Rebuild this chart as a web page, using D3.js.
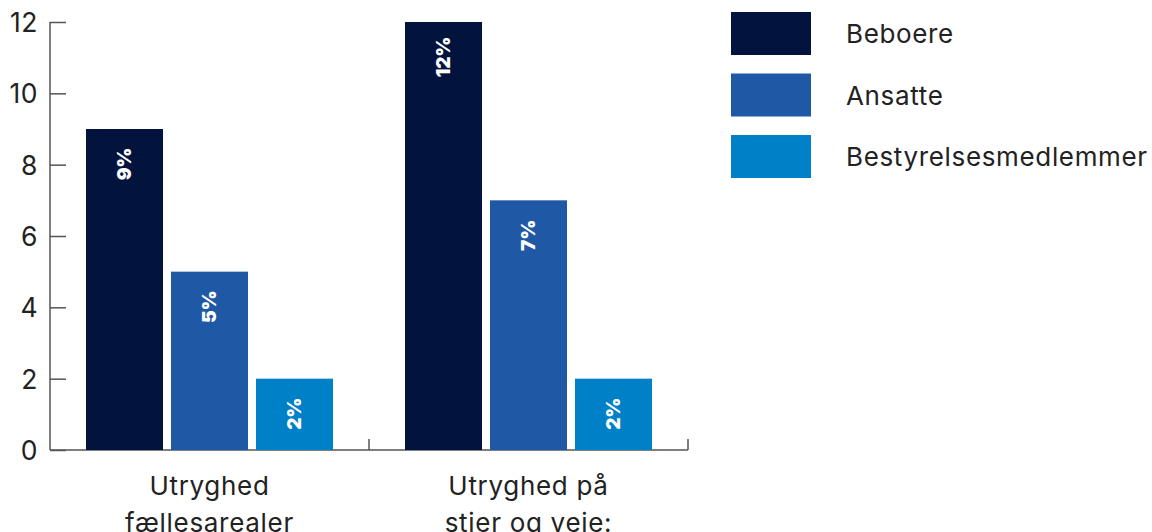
<!DOCTYPE html>
<html><head><meta charset="utf-8">
<script src="https://cdn.jsdelivr.net/npm/d3@7"></script>
<style>
html,body{margin:0;padding:0;background:#fff;}
svg{display:block;font-family:"Inter","Lato",sans-serif;}
</style></head>
<body>
<svg id="chart" width="1152" height="532"></svg>
<script>
const categories = [["Utryghed", "fællesarealer"], ["Utryghed på", "stier og veje:"]];
const seriesNames = ["Beboere", "Ansatte", "Bestyrelsesmedlemmer"];
const beboere = [9, 12];
const ansatte = [5, 7];
const bestyrelse = [2, 2];
const yTicks = [0, 2, 4, 6, 8, 10, 12];
const colors = ["#02143E", "#1F59A6", "#0080C7"];

const seriesValues = [beboere, ansatte, bestyrelse];
const svg = d3.select("#chart");
const x0 = d3.scaleBand().domain(d3.range(categories.length)).range([50, 688]).paddingInner(0).paddingOuter(0);
const x1 = d3.scaleBand().domain(d3.range(seriesNames.length)).range([36, 283]).paddingInner(0.094);
const y = d3.scaleLinear().domain([0, 12]).range([450, 22]);
const textColor = "#222";
const axisColor = "#555";

// y axis
const yAxis = svg.append("g").attr("transform", "translate(50,0)")
  .call(d3.axisRight(y).tickValues(yTicks).tickSize(16).tickFormat(""));
yAxis.select(".domain").remove();
yAxis.selectAll("line").attr("stroke", axisColor).attr("stroke-width", 1.5);
svg.append("line").attr("x1", 50).attr("x2", 50).attr("y1", y(12)).attr("y2", y(0))
  .attr("stroke", axisColor).attr("stroke-width", 1.5);
svg.append("g").selectAll("text").data(yTicks).join("text")
  .attr("x", 38).attr("y", d => y(d)).attr("text-anchor", "end")
  .attr("dominant-baseline", "central").attr("font-size", 26.5).attr("letter-spacing", 0.5).attr("fill", textColor)
  .text(d => d);

// x axis
svg.append("line").attr("x1", 50).attr("x2", 688).attr("y1", y(0)).attr("y2", y(0))
  .attr("stroke", axisColor).attr("stroke-width", 1.5);
const xBoundaries = d3.range(1, categories.length + 1).map(i => x0(i - 1) + x0.bandwidth());
svg.append("g").selectAll("line").data(xBoundaries).join("line")
  .attr("x1", d => d).attr("x2", d => d).attr("y1", y(0) - 11).attr("y2", y(0))
  .attr("stroke", axisColor).attr("stroke-width", 1.5);

// bars
const groups = svg.append("g").selectAll("g").data(categories).join("g")
  .attr("transform", (d, i) => `translate(${x0(i)},0)`);
groups.each(function(cat, ci) {
  const g = d3.select(this);
  seriesNames.forEach((s, si) => {
    const v = seriesValues[si][ci];
    g.append("rect").attr("x", x1(si)).attr("width", x1.bandwidth())
      .attr("y", y(v)).attr("height", y(0) - y(v)).attr("fill", colors[si]);
    const cx = x1(si) + x1.bandwidth() / 2;
    const cy = y(v) + 35;
    g.append("text").attr("transform", `translate(${cx},${cy}) rotate(-90)`)
      .attr("text-anchor", "middle").attr("dominant-baseline", "central")
      .attr("font-size", 19).attr("font-weight", 900).attr("fill", "#fff")
      .text(v + "%");
  });
  g.append("text").attr("x", x0.bandwidth() / 2).attr("y", 495)
    .attr("text-anchor", "middle").attr("font-size", 26).attr("letter-spacing", 0.7).attr("fill", textColor)
    .selectAll("tspan").data(cat).join("tspan")
    .attr("x", x0.bandwidth() / 2).attr("dy", (d, i) => i === 0 ? 0 : 37).text(d => d);
});

// legend
const legend = svg.append("g").selectAll("g").data(seriesNames).join("g")
  .attr("transform", (d, i) => `translate(731,${12 + i * 61.5})`);
legend.append("rect").attr("width", 80).attr("height", 43).attr("fill", (d, i) => colors[i]);
legend.append("text").attr("x", 115).attr("y", 21.5).attr("dominant-baseline", "central")
  .attr("font-size", 26).attr("letter-spacing", 0.65).attr("fill", textColor).text(d => d);
</script>
</body></html>
